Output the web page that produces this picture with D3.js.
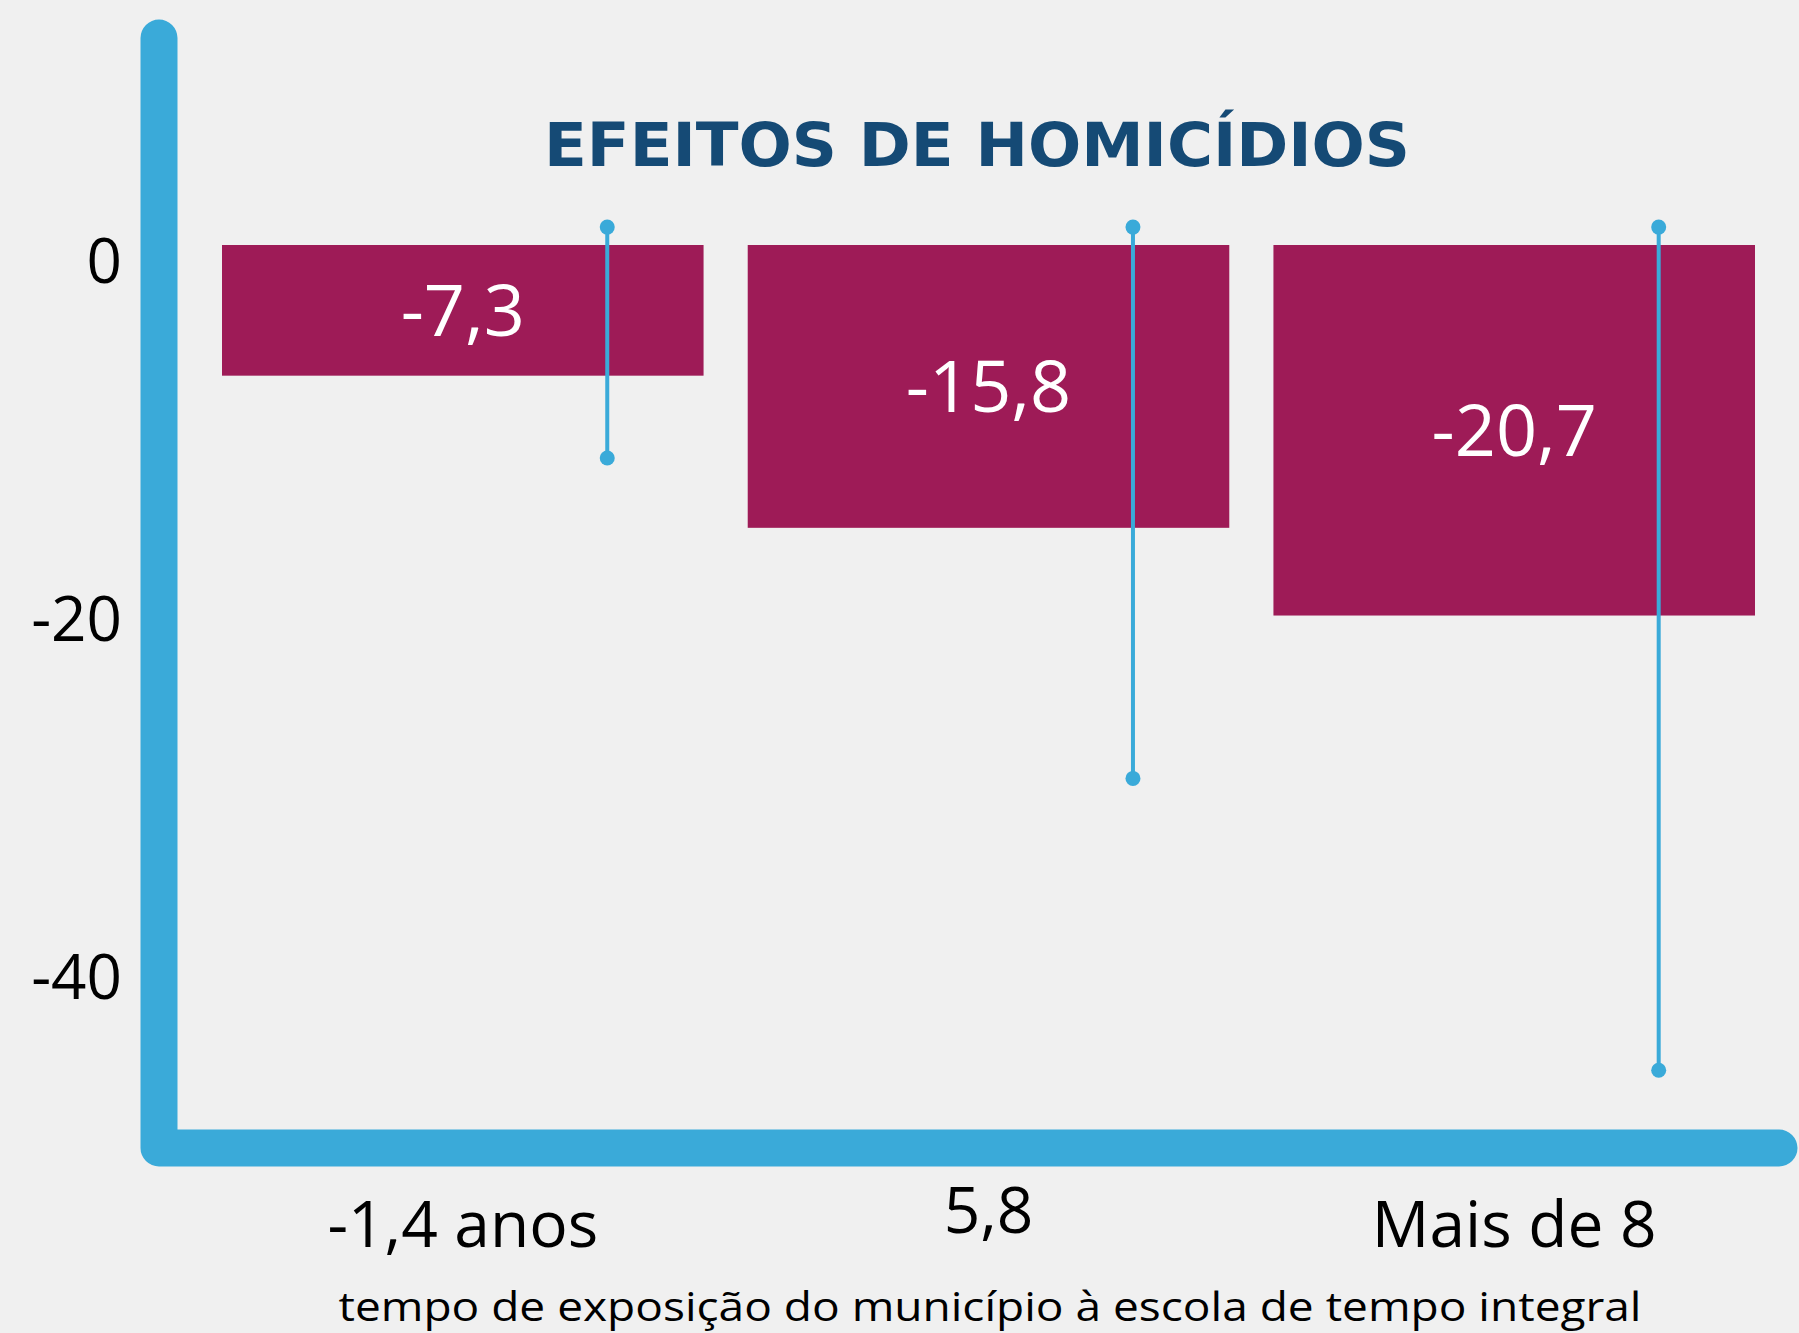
<!DOCTYPE html>
<html>
<head>
<meta charset="utf-8">
<script src="https://cdn.jsdelivr.net/npm/d3@7"></script>
<style>
  body { margin: 0; background: #f0f0f0; }
  svg { display: block; }
</style>
</head>
<body>
<div id="chart"></div>
<script>
// data
var categories = ["-1,4 anos", "5,8", "Mais de 8"]
var effects = [-7.3, -15.8, -20.7]
var errLow = [-11.9, -29.8, -46.1]
var errHigh = [1.0, 1.0, 1.0]
var yTicks = [0, -20, -40]

var width = 1799
var height = 1333
var blue = "#3aaad9"
var wine = "#9e1b57"

var svg = d3.select("#chart").append("svg")
  .attr("width", width)
  .attr("height", height)

var x = d3.scaleBand()
  .domain(categories)
  .range([222, 1755])
  .paddingInner(0.084)
  .paddingOuter(0)

var y = d3.scaleLinear()
  .domain([0, -40])
  .range([245, 961])

var rows = categories.map((c, i) => ({cat: c, v: effects[i], lo: errLow[i], hi: errHigh[i]}))

// big L shaped axis
svg.append("path")
  .attr("d", d3.line()([[159, 38], [159, 1148], [1779, 1148]]))
  .attr("fill", "none")
  .attr("stroke", blue)
  .attr("stroke-width", 37)
  .attr("stroke-linecap", "round")
  .attr("stroke-linejoin", "round")

// title
svg.append("text")
  .attr("x", 977)
  .attr("y", 166)
  .attr("text-anchor", "middle")
  .attr("font-family", "DejaVu Sans")
  .attr("font-weight", "bold")
  .attr("font-size", 60)
  .attr("fill", "#154a75")
  .attr("textLength", 866)
  .attr("lengthAdjust", "spacingAndGlyphs")
  .text("EFEITOS DE HOMICÍDIOS")

// y axis labels
var gy = svg.append("g")
  .attr("transform", "translate(130,0)")
  .call(d3.axisLeft(y).tickValues(yTicks).tickSize(0).tickPadding(8).tickFormat(d => d))
gy.select(".domain").remove()
gy.selectAll("text")
  .attr("dy", "0.6em")
  .attr("font-family", "Open Sans")
  .attr("font-size", 62)
  .attr("fill", "#000")

// bars
svg.append("g")
  .selectAll("rect")
  .data(rows)
  .join("rect")
    .attr("x", d => x(d.cat))
    .attr("y", y(0))
    .attr("width", x.bandwidth())
    .attr("height", d => y(d.v) - y(0))
    .attr("fill", wine)

// value labels in the middle of each bar
svg.append("g")
  .selectAll("text")
  .data(rows)
  .join("text")
    .attr("x", d => x(d.cat) + x.bandwidth() / 2)
    .attr("y", d => (y(0) + y(d.v)) / 2)
    .attr("dy", "0.36em")
    .attr("text-anchor", "middle")
    .attr("font-family", "Open Sans")
    .attr("font-size", 72)
    .attr("fill", "#fff")
    .text(d => String(d.v).replace(".", ","))

// error bars
var errX = d => x(d.cat) + x.bandwidth() * 0.8
var err = svg.append("g").attr("fill", blue).attr("stroke", blue)
err.selectAll("line")
  .data(rows)
  .join("line")
    .attr("x1", errX).attr("x2", errX)
    .attr("y1", d => y(d.hi)).attr("y2", d => y(d.lo))
    .attr("stroke-width", 4)
err.selectAll("circle.hi")
  .data(rows)
  .join("circle").attr("class", "hi")
    .attr("cx", errX).attr("cy", d => y(d.hi)).attr("r", 7.5).attr("stroke", "none")
err.selectAll("circle.lo")
  .data(rows)
  .join("circle").attr("class", "lo")
    .attr("cx", errX).attr("cy", d => y(d.lo)).attr("r", 7.5).attr("stroke", "none")

// category labels
svg.append("g")
  .selectAll("text")
  .data(categories)
  .join("text")
    .attr("x", d => x(d) + x.bandwidth() / 2)
    .attr("y", 1247)
    .attr("dy", (d, i) => i == 1 ? -14 : 0) // middle one sits a bit higher in the original
    .attr("text-anchor", "middle")
    .attr("font-family", "Open Sans")
    .attr("font-size", 64)
    .attr("fill", "#000")
    .text(d => d)

// axis title
svg.append("text")
  .attr("x", 990)
  .attr("y", 1321)
  .attr("text-anchor", "middle")
  .attr("font-family", "Open Sans")
  .attr("font-size", 40)
  .attr("fill", "#000")
  .attr("textLength", 1303)
  .attr("lengthAdjust", "spacingAndGlyphs")
  .text("tempo de exposição do município à escola de tempo integral")
</script>
</body>
</html>
